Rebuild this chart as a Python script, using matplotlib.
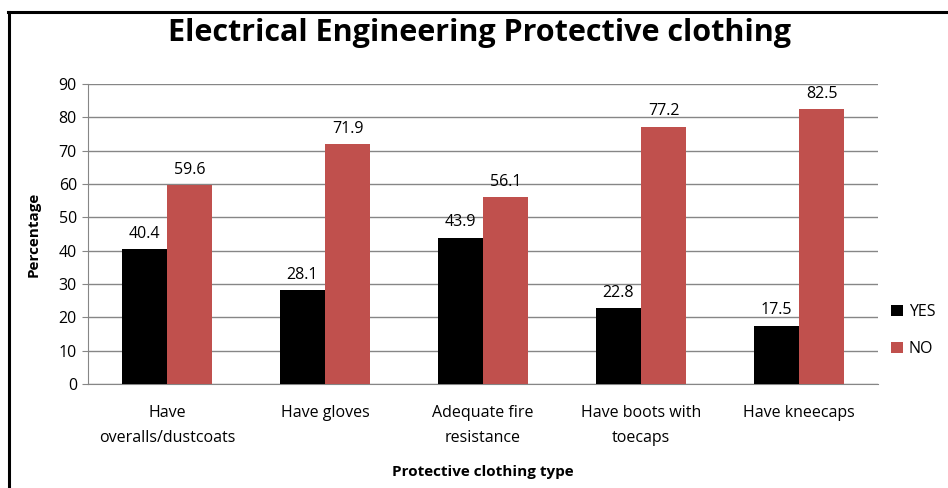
import matplotlib
matplotlib.use("Agg")
import matplotlib.pyplot as plt
import numpy as np

categories = ["Have\noveralls/dustcoats", "Have gloves", "Adequate fire\nresistance",
              "Have boots with\ntoecaps", "Have kneecaps"]
yes_vals = [40.4, 28.1, 43.9, 22.8, 17.5]
no_vals = [59.6, 71.9, 56.1, 77.2, 82.5]
series_names = ["YES", "NO"]
yticks = list(range(0, 100, 10))

plt.rcParams['font.family'] = ['Open Sans', 'DejaVu Sans']

W, H = 948, 488
fig = plt.figure(figsize=(W/100, H/100), dpi=100)
ax = fig.add_axes([88/W, 1-384/H, (878-88)/W, 300/H])

x = np.arange(len(categories))
bw = 0.285
ax.bar(x - bw/2, yes_vals, bw, color="#000000", label=series_names[0], zorder=3)
ax.bar(x + bw/2, no_vals, bw, color="#C0504D", label=series_names[1], zorder=3)

for xi, v in zip(x, yes_vals):
    ax.text(xi - bw/2, v + 2.2, f"{v}", ha="center", va="bottom", fontsize=11.5, color="#000000")
for xi, v in zip(x, no_vals):
    ax.text(xi + bw/2, v + 2.2, f"{v}", ha="center", va="bottom", fontsize=11.5, color="#000000")

ax.set_xlim(-0.5, len(categories) - 0.5)
ax.set_ylim(0, 90)
ax.set_yticks(yticks)
ax.tick_params(axis='y', labelsize=11.5, length=4, color="#868686", pad=4)
ax.set_xticks(x)
ax.set_xticklabels(categories, fontsize=11.5, linespacing=1.75)
ax.tick_params(axis='x', length=0, pad=15)
ax.yaxis.grid(True, color="#868686", linewidth=1, zorder=0)
ax.set_axisbelow(True)
for s in ["top", "right"]:
    ax.spines[s].set_visible(False)
for s in ["left", "bottom"]:
    ax.spines[s].set_color("#868686")

ax.set_ylabel("Percentage", fontsize=11, fontweight="bold", labelpad=13)
ax.set_xlabel("Protective clothing type", fontsize=11, fontweight="bold", labelpad=14)

fig.text(479/W, 1-33/H, "Electrical Engineering Protective clothing", ha="center", va="center",
         fontsize=22, fontweight="bold")

leg = fig.legend(loc="upper left", bbox_to_anchor=(877/W, 1-290/H), frameon=False,
                 fontsize=11.5, handlelength=0.7, handleheight=0.7, handletextpad=0.4,
                 labelspacing=1.3)

# outer border (top and left visible)
fig.add_artist(plt.Line2D([8/W, 1], [1-11.5/H, 1-11.5/H], color="black", lw=2.2, transform=fig.transFigure))
fig.add_artist(plt.Line2D([8.5/W, 8.5/W], [0, 1-11.5/H], color="black", lw=2.2, transform=fig.transFigure))

fig.savefig("out.png", dpi=100)
